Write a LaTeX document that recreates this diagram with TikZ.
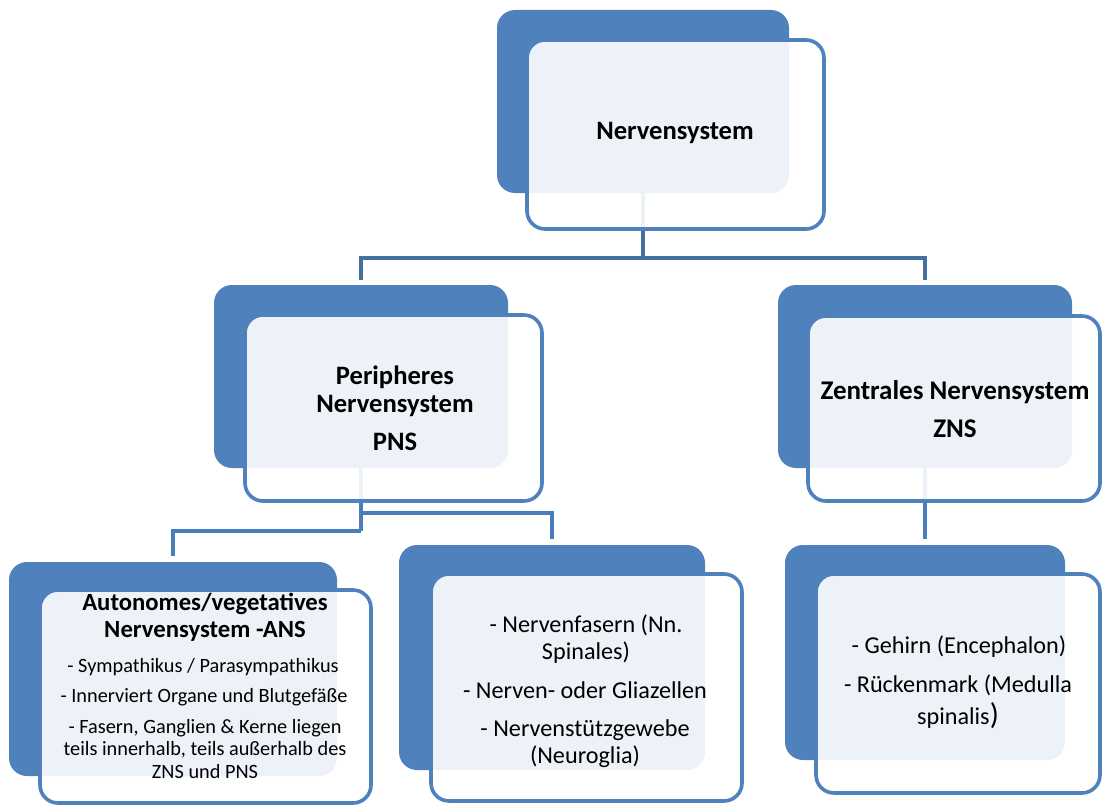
\documentclass[tikz,border=0pt]{standalone}
\usepackage{fontspec}
\setmainfont{Carlito}
\definecolor{boxblue}{HTML}{4F81BD}
\definecolor{linedark}{HTML}{41719C}
\definecolor{linemid}{HTML}{4A7EBB}
\begin{document}
\begin{tikzpicture}[x=1pt,y=-1pt,
  back/.style={fill=boxblue, rounded corners=18pt, inner sep=0pt, outer sep=0pt},
  front/.style={draw=boxblue, line width=3.6pt, fill=white, fill opacity=0.9, rounded corners=18pt, inner sep=0pt, outer sep=0pt},
  conntop/.style={line width=4.2pt, color=linedark},
  conn/.style={line width=3.6pt, color=linemid},
  ttl/.style={font=\fontsize{26.6}{28}\selectfont\bfseries, align=center, inner sep=0pt, text=black},
  bodybig/.style={font=\fontsize{24.2}{27}\selectfont, align=center, inner sep=0pt, text=black},
  bodysmall/.style={font=\fontsize{20.3}{22.5}\selectfont, align=center, inner sep=0pt, text=black}]
\fill[white] (0,0) rectangle (1103,808);
\useasboundingbox (0,0) rectangle (1103,808);

% back boxes
\node[back, minimum width=292pt, minimum height=183pt] (topB) at (643,101.5) {};
\node[back, minimum width=294pt, minimum height=183pt] (pnsB) at (361,376.5) {};
\node[back, minimum width=294pt, minimum height=183pt] (znsB) at (925,376.5) {};
\node[back, minimum width=328pt, minimum height=214pt] (ansB) at (173,669) {};
\node[back, minimum width=306pt, minimum height=225pt] (midB) at (552,657.5) {};
\node[back, minimum width=280pt, minimum height=215pt] (rgtB) at (925,652.5) {};

% connectors
\coordinate (tj) at (643,258);
\draw[conntop] (topB.south) -- (tj);
\draw[conntop, shorten >=5pt] (tj) -| (pnsB.north);
\draw[conntop, shorten >=5pt] (tj) -| (znsB.north);
\coordinate (pj1) at (361,513);
\coordinate (pj2) at (361,531);
\draw[conn] (pnsB.south) -- (pj2);
\draw[conn, shorten >=6pt] (pj2) -| (ansB.north);
\draw[conn, shorten >=6pt] (pj1) -| (midB.north);
\draw[conn, shorten >=6pt] (znsB.south) -- (rgtB.north);

% front boxes
\node[front, minimum width=297pt, minimum height=189pt] (topF) at (675.5,134.5) {};
\node[front, minimum width=297pt, minimum height=186pt] (pnsF) at (393.5,408) {};
\node[front, minimum width=292pt, minimum height=185pt] (znsF) at (954,408.5) {};
\node[front, minimum width=331pt, minimum height=213pt] (ansF) at (205.5,696.5) {};
\node[front, minimum width=311pt, minimum height=227pt] (midF) at (586.5,687.5) {};
\node[front, minimum width=284pt, minimum height=219pt] (rgtF) at (958,683.5) {};

% texts
\node[ttl] (tTop) at (675,133) {Nervensystem};
\node[ttl] (tPns) at (395,408) {Peripheres\\Nervensystem\\[10pt]PNS};
\node[ttl, font=\fontsize{27}{28}\selectfont\bfseries] (tZns) at (955,409) {Zentrales Nervensystem\\[10pt]ZNS};

\node[ttl, font=\fontsize{24.7}{27}\selectfont\bfseries] (tAns) at (205,617) {Autonomes/vegetatives\\Nervensystem -ANS};
\node[bodysmall] (a1) at (203,667) {- Sympathikus / Parasympathikus};
\node[bodysmall] (a2) at (204,697) {- Innerviert Organe und Blutgefäße};
\node[bodysmall] (a3) at (205,749) {- Fasern, Ganglien \& Kerne liegen\\teils innerhalb, teils außerhalb des\\ZNS und PNS};

\node[bodybig] (m1) at (586,639) {- Nervenfasern (Nn.\\Spinales)};
\node[bodybig] (m2) at (585,690) {- Nerven- oder Gliazellen};
\node[bodybig] (m3) at (585,744) {- Nervenstützgewebe\\(Neuroglia)};

\node[bodybig] (r1) at (959,647) {- Gehirn (Encephalon)};
\node[bodybig, font=\fontsize{24.2}{32}\selectfont] (r2) at (958,702) {- Rückenmark (Medulla\\spinalis{\fontsize{30}{32}\selectfont)}};
\end{tikzpicture}
\end{document}
